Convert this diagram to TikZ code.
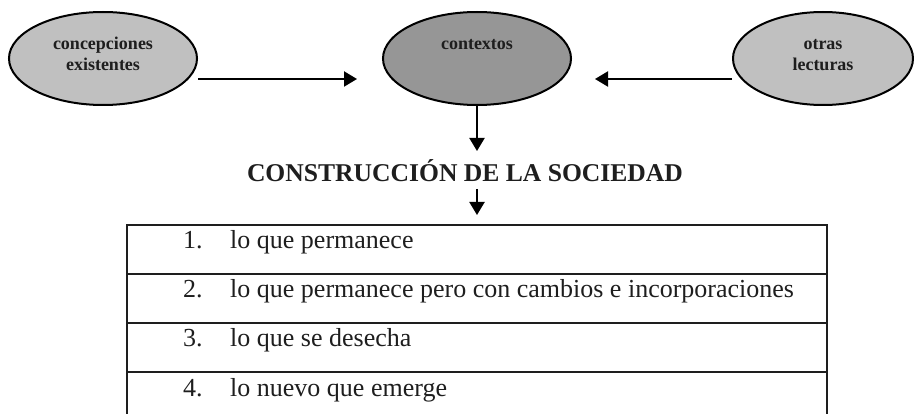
\documentclass[tikz,border=0pt]{standalone}
\usepackage{fontspec}
\setmainfont{Liberation Serif}
\usetikzlibrary{shapes.geometric,arrows.meta}
\definecolor{lgray}{HTML}{C0C0C0}
\definecolor{dgray}{HTML}{969696}
\definecolor{ink}{HTML}{1E1E1E}
\begin{document}
\begin{tikzpicture}[x=1pt,y=-1pt,
  oval/.style={ellipse, draw=black, line width=2pt, minimum width=188pt, minimum height=93pt, inner sep=0pt},
  ovaltext/.style={font=\fontsize{18}{21}\selectfont\bfseries, text=ink, anchor=base},
  arr/.style={line width=2.2pt, -{Triangle[length=13pt,width=15pt]}},
  rowtext/.style={font=\fontsize{26}{30}\selectfont, text=ink, anchor=base west, inner sep=0pt},
  titletext/.style={font=\fontsize{25.6}{30}\selectfont\bfseries, text=ink, anchor=base, inner sep=0pt},
  tab/.style={line width=2.8pt, draw=ink}
]
\useasboundingbox (0,0) rectangle (914,414);
% ellipses
\node[oval, fill=lgray] (ce) at (103,58.5) {};
\node[oval, fill=dgray] (ct) at (477,58.5) {};
\node[oval, fill=lgray, minimum width=180pt] (ol) at (823,58.5) {};
% ellipse texts
\node[ovaltext] (ce1) at (103,50) {concepciones};
\node[ovaltext] (ce2) at (103,71) {existentes};
\node[ovaltext] (ct1) at (477,50) {contextos};
\node[ovaltext] (ol1) at (823,50) {otras};
\node[ovaltext] (ol2) at (823,71) {lecturas};
% arrows
\coordinate (a1s) at ([yshift=-20.5pt]ce.east);
\coordinate (a1e) at ([xshift=-25pt,yshift=-20.5pt]ct.west);
\coordinate (a2s) at ([yshift=-20.5pt]ol.west);
\coordinate (a2e) at ([xshift=23pt,yshift=-20.5pt]ct.east);
\draw[arr] (a1s) -- (a1e);
\draw[arr] (a2s) -- (a2e);
\coordinate (d1e) at (477,151);
\draw[arr] (ct.south) -- (d1e);
% title
\node[titletext] (title) at (465,182) {CONSTRUCCIÓN DE LA SOCIEDAD};
\coordinate (d2s) at (477,189);
\coordinate (d2e) at (477,215);
\draw[arr] (d2s) -- (d2e);
% table
\draw[tab] (127,420) -- (127,225) -- (827,225) -- (827,420);
\draw[tab] (127,274) -- (827,274);
\draw[tab] (127,323) -- (827,323);
\draw[tab] (127,372) -- (827,372);
% rows
\node[rowtext] (n1) at (183,249) {1.};
\node[rowtext] (r1) at (230,249) {lo que permanece};
\node[rowtext] (n2) at (183,298) {2.};
\node[rowtext] (r2) at (230,298) {lo que permanece pero con cambios e incorporaciones};
\node[rowtext] (n3) at (183,347) {3.};
\node[rowtext] (r3) at (230,347) {lo que se desecha};
\node[rowtext] (n4) at (183,396) {4.};
\node[rowtext] (r4) at (230,396) {lo nuevo que emerge};
\end{tikzpicture}
\end{document}
